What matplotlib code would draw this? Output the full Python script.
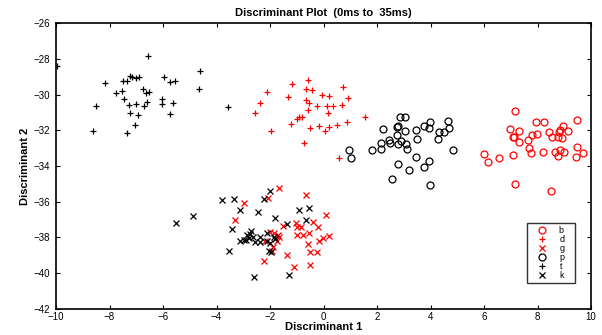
import matplotlib
matplotlib.use('Agg')
import matplotlib.pyplot as plt

plt.rcParams['font.family'] = ['Liberation Sans', 'DejaVu Sans']

# b - red circles
b_x = [7.15, 9.46, 7.94, 8.25, 8.96, 6.98, 7.31, 8.44, 8.79, 8.84, 9.15, 7.96, 7.78, 7.07, 7.13, 8.55, 8.75, 8.9,
       7.63, 7.31, 7.66, 9.48, 5.98, 6.57, 6.15, 7.09, 7.75, 8.19, 8.63, 8.85, 9.0, 8.75, 9.44, 9.71, 7.15, 8.5]
b_y = [-30.93, -31.42, -31.56, -31.56, -31.75, -31.94, -32.05, -32.07, -32.07, -32.01, -32.03, -32.22, -32.29,
       -32.37, -32.4, -32.35, -32.35, -32.46, -32.55, -32.65, -33.02, -32.93, -33.32, -33.55, -33.79, -33.4,
       -33.26, -33.21, -33.23, -33.11, -33.23, -33.45, -33.51, -33.26, -35.0, -35.41]

# d - red plus
d_x = [-0.59, -1.17, -2.11, -0.67, -0.42, 0.74, -0.05, 0.2, -1.32, 0.92, -0.67, -0.55, -2.36, -0.26, 0.11, 0.35,
       0.7, -0.59, -2.57, 0.18, -0.93, -0.81, -1.0, 1.55, 0.87, -1.21, -0.49, -0.18, 0.22, 0.49, -1.95, 0.05,
       -0.74, 0.57]
d_y = [-29.19, -29.42, -29.85, -29.71, -29.77, -29.6, -30.0, -30.09, -30.16, -30.18, -30.31, -30.5, -30.46,
       -30.63, -30.63, -30.65, -30.59, -30.87, -31.02, -31.06, -31.28, -31.28, -31.39, -31.27, -31.55, -31.66,
       -31.85, -31.77, -31.83, -31.73, -32.05, -32.05, -32.74, -33.58]

# g - red x
g_x = [-1.67, -2.08, -2.96, -3.3, -0.64, 0.1, -0.39, -1.04, -1.52, -1.01, -0.83, -0.2, -0.55, -1.99, -1.84, -1.7,
       -0.99, -0.76, 0.2, -0.04, -0.18, -1.73, -2.2, -1.67, -1.88, -1.92, -0.59, -0.49, -0.26, -1.36, -2.24,
       -1.11, -0.51]
g_y = [-35.22, -35.8, -36.08, -37.04, -35.65, -36.77, -37.11, -37.19, -37.36, -37.41, -37.41, -37.43, -37.73,
       -37.71, -37.75, -37.84, -37.89, -37.89, -37.91, -38.04, -38.2, -38.2, -38.21, -37.97, -38.53, -38.75,
       -38.34, -38.83, -38.83, -39.01, -39.3, -39.68, -39.56]

# p - black circles
p_x = [2.85, 3.05, 2.8, 2.76, 2.23, 3.03, 3.45, 3.76, 3.97, 3.95, 4.66, 4.69, 4.32, 4.51, 2.76, 3.51, 4.26, 2.45,
       2.16, 2.48, 2.91, 2.8, 3.07, 2.13, 1.82, 3.1, 4.82, 0.95, 1.01, 3.45, 3.95, 3.76, 2.8, 3.2, 2.57, 3.99]
p_y = [-31.28, -31.25, -31.75, -31.81, -31.95, -32.05, -31.98, -31.75, -31.55, -31.88, -31.47, -31.86, -32.11,
       -32.11, -32.27, -32.48, -32.48, -32.55, -32.71, -32.74, -32.61, -32.78, -32.78, -33.06, -33.11, -33.04,
       -33.11, -33.11, -33.55, -33.51, -33.71, -34.03, -33.9, -34.24, -34.71, -35.04]

# t - black plus
t_x = [-9.97, -6.58, -4.61, -8.16, -7.25, -7.17, -7.0, -6.9, -7.48, -7.33, -5.96, -5.73, -5.54, -4.66, -7.75,
       -7.52, -6.75, -6.63, -6.53, -7.45, -6.6, -6.03, -6.03, -5.63, -8.5, -7.29, -7.0, -6.7, -7.23, -6.92,
       -5.73, -7.04, -8.6, -7.33, -3.57]
t_y = [-28.41, -27.85, -28.67, -29.38, -28.97, -29.04, -29.1, -29.0, -29.23, -29.23, -29.04, -29.3, -29.23,
       -29.71, -29.94, -29.81, -29.71, -29.94, -29.83, -30.27, -30.41, -30.24, -30.54, -30.46, -30.65, -30.61,
       -30.55, -30.65, -31.02, -31.14, -31.1, -31.68, -32.03, -32.16, -30.71]

# k - black x
k_x = [-5.52, -4.88, -3.79, -3.36, -3.11, -2.46, -1.99, -2.21, -3.43, -3.52, -2.7, -2.76, -2.86, -2.8, -2.9,
       -2.99, -3.13, -2.65, -2.39, -2.55, -2.11, -1.82, -1.36, -0.93, -0.55, -0.64, -2.36, -2.13, -2.02, -1.84,
       -1.8, -2.05, -1.96, -2.61, -1.3]
k_y = [-37.19, -36.81, -35.93, -35.84, -36.48, -36.57, -35.41, -35.86, -37.5, -38.77, -37.65, -37.82, -37.89,
       -38.03, -38.12, -38.16, -38.2, -37.97, -37.97, -38.25, -37.74, -36.9, -37.22, -36.48, -36.38, -37.04,
       -38.25, -38.21, -38.31, -37.97, -38.1, -38.75, -38.79, -40.21, -40.13]

fig = plt.figure(figsize=(6.02, 3.35), dpi=100)
ax = fig.add_axes([0.093, 0.078, 0.889, 0.853])

ax.plot(b_x, b_y, 'o', color='red', mfc='none', ms=5, mew=0.9, label='b   ')
ax.plot(d_x, d_y, '+', color='red', ms=5, mew=0.9, label='d')
ax.plot(g_x, g_y, 'x', color='red', ms=4, mew=0.9, label='g')
ax.plot(p_x, p_y, 'o', color='black', mfc='none', ms=5, mew=0.9, label='p')
ax.plot(t_x, t_y, '+', color='black', ms=5, mew=0.9, label='t')
ax.plot(k_x, k_y, 'x', color='black', ms=4, mew=0.9, label='k')

ax.set_xlim(-10, 10)
ax.set_ylim(-42, -26)
ax.set_xticks(range(-10, 11, 2))
ax.set_yticks(range(-42, -25, 2))
ax.tick_params(direction='in', top=True, right=True, labelsize=7, length=3, width=0.8)
ax.tick_params(axis='x', pad=2)
ax.tick_params(axis='y', pad=4)
for s in ax.spines.values():
    s.set_linewidth(1.2)

ax.set_title('Discriminant Plot  (0ms to  35ms)', fontsize=8, fontweight='bold', pad=5)
ax.set_xlabel('Discriminant 1', fontsize=8, fontweight='bold', labelpad=0)
ax.set_ylabel('Discriminant 2', fontsize=8, fontweight='bold', labelpad=3)

leg = ax.legend(loc='lower right', bbox_to_anchor=(0.97, 0.091), borderaxespad=0, fontsize=6.5,
                handlelength=2.5, handletextpad=0.7, labelspacing=0.0, borderpad=0.35,
                fancybox=False, edgecolor='black')
leg.get_frame().set_linewidth(1.0)

plt.savefig('out.png', dpi=100)
